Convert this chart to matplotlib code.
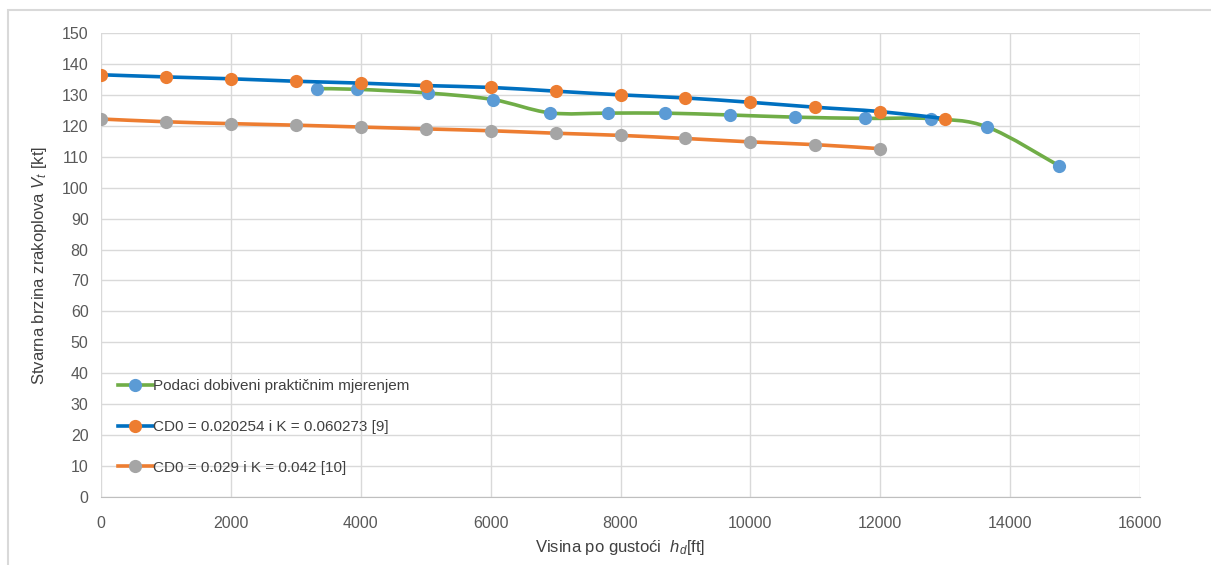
import numpy as np
import matplotlib
matplotlib.use("Agg")
import matplotlib.pyplot as plt
from matplotlib.path import Path
from matplotlib.patches import PathPatch, Rectangle
from matplotlib.lines import Line2D

plt.rcParams['font.family'] = ['Liberation Sans', 'DejaVu Sans']
plt.rcParams['mathtext.fontset'] = 'custom'
plt.rcParams['mathtext.rm'] = 'Liberation Sans'
plt.rcParams['mathtext.it'] = 'Liberation Sans:italic'

# podaci ocitani sa grafikona
h_mjer = [3320, 3940, 5030, 6030, 6910, 7800, 8680, 9680, 10680, 11770, 12780, 13650, 14750]
v_mjer = [132.0, 131.8, 130.6, 128.5, 124.2, 124.1, 124.1, 123.5, 122.8, 122.4, 122.3, 119.6, 107.1]

h_9 = [0, 1000, 2000, 3000, 4000, 5000, 6000, 7000, 8000, 9000, 10000, 11000, 12000, 13000]
v_9 = [136.5, 135.8, 135.2, 134.4, 133.8, 133.0, 132.4, 131.2, 130.0, 129.0, 127.6, 126.0, 124.6, 122.3]

h_10 = [0, 1000, 2000, 3000, 4000, 5000, 6000, 7000, 8000, 9000, 10000, 11000, 12000]
v_10 = [122.2, 121.3, 120.7, 120.2, 119.6, 119.0, 118.4, 117.6, 116.9, 115.9, 114.8, 113.9, 112.6]

labels = ['Podaci dobiveni praktičnim mjerenjem',
          'CD0 = 0.020254 i K = 0.060273 [9]',
          'CD0 = 0.029 i K = 0.042 [10]']


def smooth_path(x, y):
    # glatka linija kao u Excelu (Bezier kroz tocke)
    p = np.column_stack([x, y]).astype(float)
    n = len(p)
    verts = [p[0]]
    codes = [Path.MOVETO]
    for i in range(n - 1):
        p0 = p[i - 1] if i > 0 else p[i]
        p3 = p[i + 2] if i + 2 < n else p[i + 1]
        c1 = p[i] + (p[i + 1] - p0) / 6.0
        c2 = p[i + 1] - (p3 - p[i]) / 6.0
        verts += [c1, c2, p[i + 1]]
        codes += [Path.CURVE4] * 3
    return Path(verts, codes)


fig = plt.figure(figsize=(12.11, 5.65), dpi=100)
ax = fig.add_axes([101 / 1211, 1 - 497 / 565, 1039 / 1211, 464 / 565])

series = [
    (h_mjer, v_mjer, '#70ad47', '#5b9bd5'),
    (h_9, v_9, '#0070c0', '#ed7d31'),
    (h_10, v_10, '#ed7d31', '#a5a5a5'),
]

handles = []
z = 3
for (hx, vy, lc, mc), lab in zip(series, labels):
    ax.add_patch(PathPatch(smooth_path(hx, vy), fill=False, edgecolor=lc, lw=2.6,
                           zorder=z, capstyle='round'))
    ax.plot(hx, vy, linestyle='none', marker='o', ms=9.5, color=mc, zorder=z + 0.5,
            markeredgewidth=0)
    handles.append(Line2D([], [], color=lc, lw=2.6, marker='o', ms=9.5, mfc=mc,
                          mec=mc, mew=0))
    z += 1

ax.set_xlim(0, 16000)
ax.set_ylim(0, 150)
ax.set_xticks(np.arange(0, 16001, 2000))
ax.set_yticks(np.arange(0, 151, 10))
ax.grid(True, color='#d9d9d9', lw=1)
ax.set_axisbelow(True)
for s in ['top', 'right', 'left']:
    ax.spines[s].set_visible(False)
ax.spines['bottom'].set_color('#bfbfbf')
ax.tick_params(length=0, colors='#595959', labelsize=11.5)
ax.tick_params(axis='x', pad=14)
ax.tick_params(axis='y', pad=9)

ax.set_xlabel(r'Visina po gustoći  $h_{d}$[ft]', fontsize=12, color='#404040', labelpad=5)
ax.set_ylabel(r'Stvarna brzina zrakoplova $V_{t}$ [kt]', fontsize=12, color='#404040',
              labelpad=9)

ax.legend(handles, labels, loc='lower left', bbox_to_anchor=(0.01, 0.035),
          frameon=False, fontsize=11, labelspacing=1.75, handlelength=2.3,
          handletextpad=0.05, borderaxespad=0, labelcolor='#404040')

fig.patches.append(Rectangle((8 / 1211, -0.05), 1.1, 1 - 10 / 565 + 0.05,
                             transform=fig.transFigure, fill=False,
                             edgecolor='#d9d9d9', lw=1.5))

fig.savefig('out.png', dpi=100)
